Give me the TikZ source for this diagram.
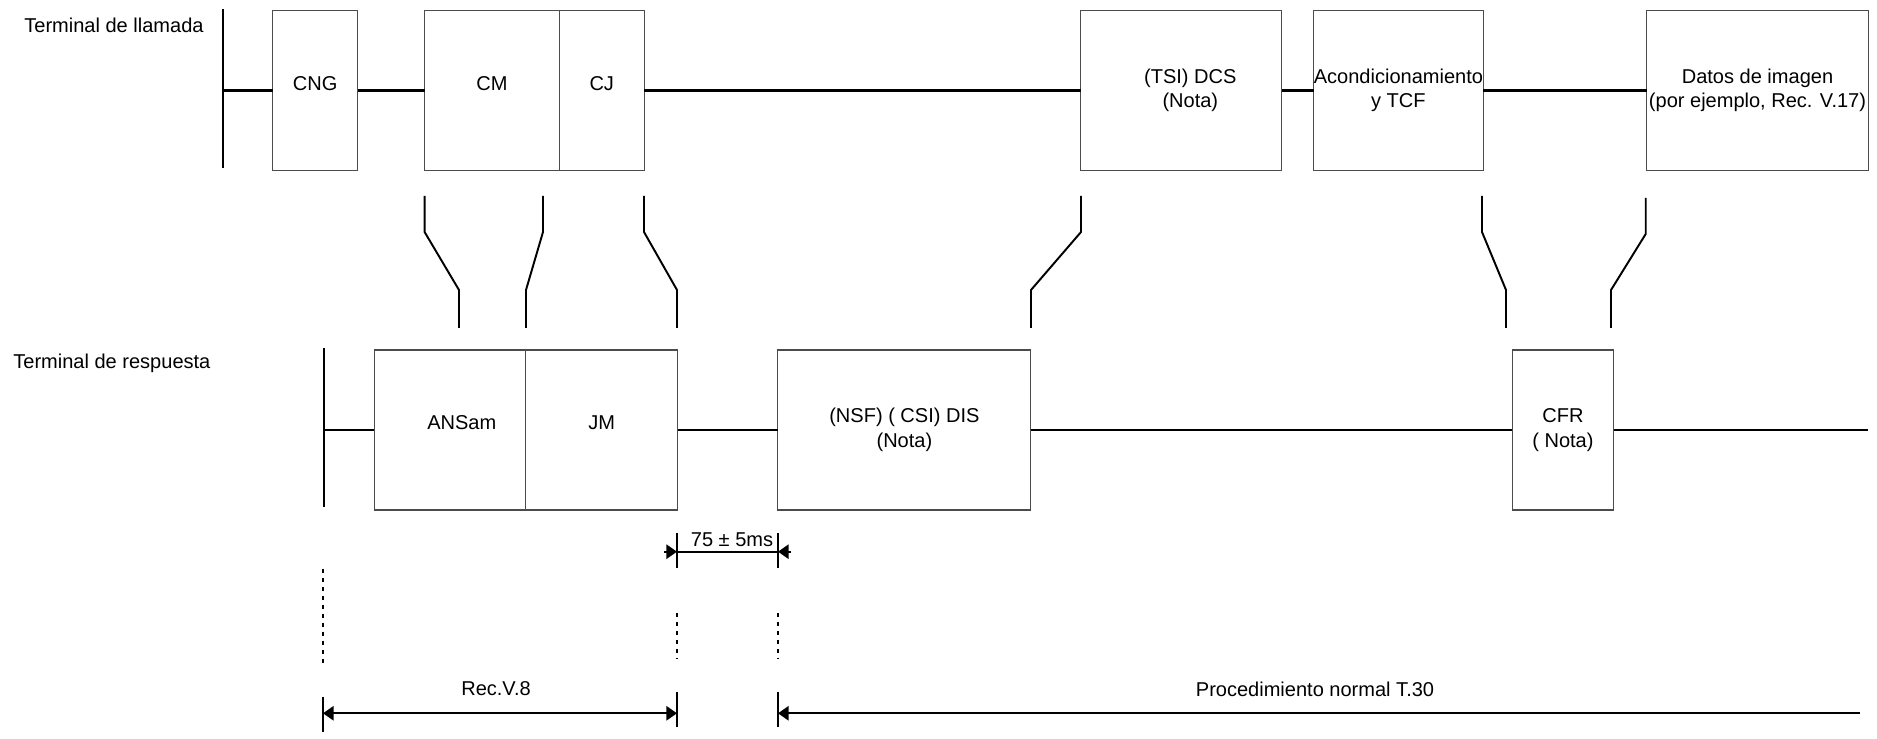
\documentclass[tikz,border=0pt]{standalone}
\usepackage{fontspec}
\setmainfont{Liberation Sans}
\usetikzlibrary{positioning,arrows.meta}
\newcommand{\boxlift}[1]{\raisebox{0.28cm}{#1}}

\begin{document}
\begin{tikzpicture}[x=0.02cm, y=-0.02cm,
  font=\fontsize{11.4}{13.9}\selectfont,
  box/.style={draw=black!70, line width=0.6pt, outer sep=0pt, inner sep=0pt, align=center, minimum height=3.214cm},
  lowbox/.style={box, minimum height=3.2cm},
  lbl/.style={inner sep=0pt},
  sigline/.style={line width=1.3pt},
  swline/.style={line width=1.1pt},
  tickline/.style={line width=1.2pt},
  guideline/.style={line width=0.9pt, dash pattern=on 2.3pt off 2.8pt},
  dimline/.style={line width=1.3pt},
  dimtip/.style={-{Triangle[length=6pt,width=8pt]}}
]
\useasboundingbox (0,0) rectangle (1877,739);

\node[lbl, anchor=west] (call) at (24,25) {Terminal de llamada};
\node[lbl, anchor=west] (resp) at (13,363) {Terminal de respuesta};

\node[box, minimum width=1.696cm] (cng) at (315.2,90.5) {\boxlift{CNG}};
\node[box, right=1.34cm of cng, minimum width=2.696cm] (cm) {\boxlift{CM}};
\node[box, right=0cm of cm, minimum width=1.696cm] (cj) {\boxlift{CJ}};
\node[box, right=8.736cm of cj, minimum width=4.02cm] (tsi) {\hspace*{0.36cm}(TSI) DCS\\\hspace*{0.36cm}(Nota)};
\node[box, right=0.64cm of tsi, minimum width=3.36cm] (acond) {Acondicionamiento\\y TCF};
\node[box, right=3.274cm of acond, minimum width=4.432cm] (datos) {Datos de imagen\\(por ejemplo, Rec. V.17)};

\node[lowbox, minimum width=3.024cm] (ansam) at (449.8,430) {\hspace*{0.48cm}\boxlift{ANSam}};
\node[lowbox, right=0cm of ansam, minimum width=3.052cm] (jm) {\boxlift{JM}};
\node[lowbox, right=2cm of jm, minimum width=5.06cm] (nsf) {(NSF) ( CSI) DIS\\(Nota)};
\node[lowbox, right=9.626cm of nsf, minimum width=2.034cm] (cfr) {CFR\\( Nota)};

\coordinate (cTop) at (223,9.3);
\coordinate (cBot) at (223,168);
\coordinate (cMid) at (223,90.5);
\coordinate (rTop) at (324,348);
\coordinate (rBot) at (324,507);
\coordinate (rMid) at (324,430);
\coordinate (rEnd) at (1868,430);

\draw[sigline] (cTop) -- (cBot);
\draw[sigline] (cMid) -- (cng);
\draw[sigline] (cng) -- (cm);
\draw[sigline] (cj) -- (tsi);
\draw[sigline] (tsi) -- (acond);
\draw[sigline] (acond) -- (datos);
\draw[sigline] (rTop) -- (rBot);
\draw[sigline] (rMid) -- (ansam);
\draw[sigline] (jm) -- (nsf);
\draw[sigline] (nsf) -- (cfr);
\draw[sigline] (cfr) -- (rEnd);

\draw[swline] (424.6,196) -- (424.6,232) -- (459,290) -- (459,328);
\draw[swline] (543,196) -- (543,232) -- (526,290) -- (526,328);
\draw[swline] (644,196) -- (644,232) -- (677,290) -- (677,328);
\draw[swline] (1081,196) -- (1081,232) -- (1031,290) -- (1031,328);
\draw[swline] (1482,196) -- (1482,232) -- (1506,290) -- (1506,328);
\draw[swline] (1645.7,198) -- (1645.7,234) -- (1611,290) -- (1611,328);

\draw[tickline] (677,533) -- (677,568);
\draw[tickline] (778,533) -- (778,568);
\draw[dimline] (677,551.7) -- (778,551.7);
\draw[dimline, dimtip] (664,551.7) -- (677,551.7);
\draw[dimline, dimtip] (791,551.7) -- (778,551.7);
\node[lbl] (gap) at (732,540) {75 ± 5ms};

\draw[guideline] (323,569) -- (323,667);
\draw[guideline] (677,613) -- (677,658);
\draw[guideline] (778,613) -- (778,658);

\draw[tickline] (323,697) -- (323,732);
\draw[tickline] (677,692) -- (677,727);
\draw[tickline] (778,692) -- (778,727);
\draw[dimline, {Triangle[length=6pt,width=8pt]}-{Triangle[length=6pt,width=8pt]}] (323,713.3) -- (677,713.3);
\draw[dimline, {Triangle[length=6pt,width=8pt]}-] (778,713.3) -- (1860,713.3);
\node[lbl] (v8) at (496,689) {Rec.V.8};
\node[lbl] (t30) at (1315,689.5) {Procedimiento normal T.30};
\end{tikzpicture}
\end{document}
